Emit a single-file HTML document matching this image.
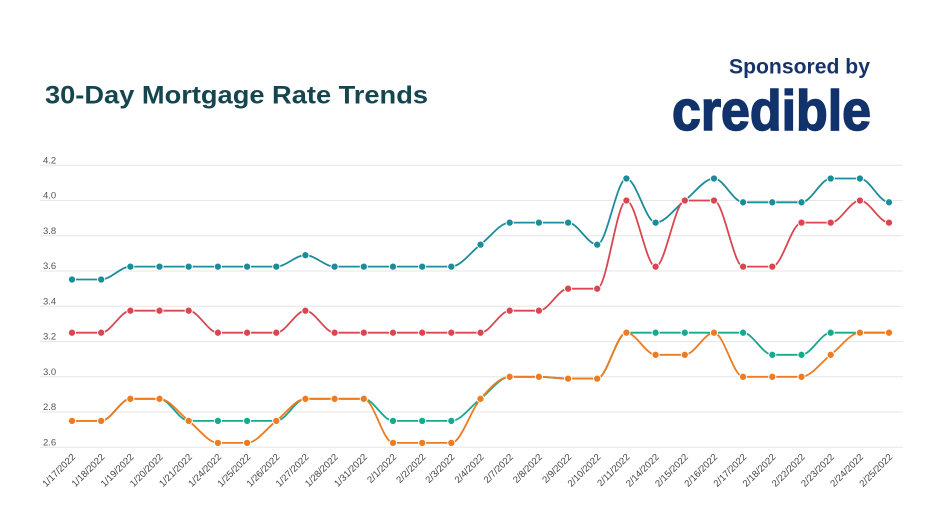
<!DOCTYPE html>
<html><head><meta charset="utf-8"><style>
html,body{margin:0;padding:0;background:#fff;}
svg{display:block;}
</style></head><body>
<svg width="932" height="524" viewBox="0 0 932 524" xmlns="http://www.w3.org/2000/svg">
<defs>
<marker id="mt" markerWidth="10" markerHeight="10" refX="5" refY="5" markerUnits="userSpaceOnUse"><circle cx="5" cy="5" r="3.6" fill="#1b8c99" stroke="#fff" stroke-width="0.9"/></marker>
<marker id="mr" markerWidth="10" markerHeight="10" refX="5" refY="5" markerUnits="userSpaceOnUse"><circle cx="5" cy="5" r="3.6" fill="#d9464f" stroke="#fff" stroke-width="0.9"/></marker>
<marker id="mg" markerWidth="10" markerHeight="10" refX="5" refY="5" markerUnits="userSpaceOnUse"><circle cx="5" cy="5" r="3.6" fill="#17a88e" stroke="#fff" stroke-width="0.9"/></marker>
<marker id="mo" markerWidth="10" markerHeight="10" refX="5" refY="5" markerUnits="userSpaceOnUse"><circle cx="5" cy="5" r="3.6" fill="#ec7b22" stroke="#fff" stroke-width="0.9"/></marker>
</defs>
<rect width="932" height="524" fill="#fff"/>
<text x="45" y="103.3" font-family="Liberation Sans, sans-serif" font-weight="bold" font-size="25" fill="#15464f" textLength="383" lengthAdjust="spacingAndGlyphs">30-Day Mortgage Rate Trends</text>
<text x="729" y="73.3" font-family="Liberation Sans, sans-serif" font-weight="bold" font-size="21" fill="#17336b" textLength="141" lengthAdjust="spacingAndGlyphs">Sponsored by</text>
<text x="672" y="130" font-family="Liberation Sans, sans-serif" font-weight="bold" font-size="57" fill="#11326b" stroke="#11326b" stroke-width="1.6" textLength="199" lengthAdjust="spacingAndGlyphs">credible</text>

<g stroke="#e6e6e6" stroke-width="1">
<line x1="40" x2="903" y1="165.3" y2="165.3"/>
<line x1="40" x2="903" y1="200.5" y2="200.5"/>
<line x1="40" x2="903" y1="235.8" y2="235.8"/>
<line x1="40" x2="903" y1="271" y2="271"/>
<line x1="40" x2="903" y1="306.3" y2="306.3"/>
<line x1="40" x2="903" y1="341.5" y2="341.5"/>
<line x1="40" x2="903" y1="376.8" y2="376.8"/>
<line x1="40" x2="903" y1="412" y2="412"/>
<line x1="40" x2="903" y1="447.3" y2="447.3"/>
</g>
<g font-family="Liberation Sans, sans-serif" font-size="9.5" fill="#555">
<text x="43" y="163.3">4.2</text>
<text x="43" y="198.5">4.0</text>
<text x="43" y="233.8">3.8</text>
<text x="43" y="269">3.6</text>
<text x="43" y="304.3">3.4</text>
<text x="43" y="339.5">3.2</text>
<text x="43" y="374.8">3.0</text>
<text x="43" y="410">2.8</text>
<text x="43" y="445.3">2.6</text>
</g>

<g fill="none" stroke-width="1.8" stroke-linejoin="round">
<path stroke="#1b8c99" marker-start="url(#mt)" marker-mid="url(#mt)" marker-end="url(#mt)" d="M72 279.5 C81.7 279.5 91.5 279.5 101.2 279.5 S120.7 266.6 130.4 266.6 S149.8 266.6 159.5 266.6 S179 266.6 188.7 266.6 S208.2 266.6 217.9 266.6 S237.4 266.6 247.1 266.6 S266.6 266.6 276.3 266.6 S295.7 255.2 305.4 255.2 S324.9 266.6 334.6 266.6 S354.1 266.6 363.8 266.6 S383.3 266.6 393 266.6 S412.5 266.6 422.2 266.6 S441.6 266.6 451.3 266.6 C461 266.6 470.8 251.9 480.5 244.6 C490.2 237.3 500 222.6 509.7 222.6 S529.2 222.6 538.9 222.6 S558.4 222.6 568.1 222.6 S587.5 244.6 597.2 244.6 S616.7 178.5 626.4 178.5 S645.9 222.6 655.6 222.6 C665.3 222.6 675.1 207.85 684.8 200.5 C694.5 193.15 704.3 178.5 714 178.5 S733.4 202.3 743.1 202.3 S762.6 202.3 772.3 202.3 S791.8 202.3 801.5 202.3 S821 178.5 830.7 178.5 S850.2 178.5 859.9 178.5 S879.3 202.3 889 202.3"/>
<path stroke="#d9464f" marker-start="url(#mr)" marker-mid="url(#mr)" marker-end="url(#mr)" d="M72 332.7 C81.7 332.7 91.5 332.7 101.2 332.7 S120.7 310.7 130.4 310.7 S149.8 310.7 159.5 310.7 S179 310.7 188.7 310.7 S208.2 332.7 217.9 332.7 S237.4 332.7 247.1 332.7 S266.6 332.7 276.3 332.7 S295.7 310.7 305.4 310.7 S324.9 332.7 334.6 332.7 S354.1 332.7 363.8 332.7 S383.3 332.7 393 332.7 S412.5 332.7 422.2 332.7 S441.6 332.7 451.3 332.7 S470.8 332.7 480.5 332.7 S500 310.7 509.7 310.7 S529.2 310.7 538.9 310.7 S558.4 288.7 568.1 288.7 S587.5 288.7 597.2 288.7 S616.7 200.5 626.4 200.5 S645.9 266.6 655.6 266.6 S675.1 200.5 684.8 200.5 S704.3 200.5 714 200.5 S733.4 266.6 743.1 266.6 S762.6 266.6 772.3 266.6 S791.8 222.6 801.5 222.6 S821 222.6 830.7 222.6 S850.2 200.5 859.9 200.5 S879.3 222.6 889 222.6"/>
<path stroke="#17a88e" marker-start="url(#mg)" marker-mid="url(#mg)" marker-end="url(#mg)" d="M72 420.9 C81.7 420.9 91.5 420.9 101.2 420.9 S120.7 398.8 130.4 398.8 S149.8 398.8 159.5 398.8 S179 420.9 188.7 420.9 S208.2 420.9 217.9 420.9 S237.4 420.9 247.1 420.9 S266.6 420.9 276.3 420.9 S295.7 398.8 305.4 398.8 S324.9 398.8 334.6 398.8 S354.1 398.8 363.8 398.8 S383.3 420.9 393 420.9 S412.5 420.9 422.2 420.9 S441.6 420.9 451.3 420.9 C461 420.9 470.8 406.15 480.5 398.8 C490.2 391.45 500 376.8 509.7 376.8 S529.2 376.8 538.9 376.8 S558.4 378.6 568.1 378.6 S587.5 378.6 597.2 378.6 S616.7 332.7 626.4 332.7 S645.9 332.7 655.6 332.7 S675.1 332.7 684.8 332.7 S704.3 332.7 714 332.7 S733.4 332.7 743.1 332.7 S762.6 354.8 772.3 354.8 S791.8 354.8 801.5 354.8 S821 332.7 830.7 332.7 S850.2 332.7 859.9 332.7 S879.3 332.7 889 332.7"/>
<path stroke="#ec7b22" marker-start="url(#mo)" marker-mid="url(#mo)" marker-end="url(#mo)" d="M72 420.9 C81.7 420.9 91.5 420.9 101.2 420.9 S120.7 398.8 130.4 398.8 S149.8 398.8 159.5 398.8 C169.2 398.8 179 413.55 188.7 420.9 C198.4 428.25 208.2 442.9 217.9 442.9 S237.4 442.9 247.1 442.9 C256.8 442.9 266.6 428.25 276.3 420.9 C286 413.55 295.7 398.8 305.4 398.8 S324.9 398.8 334.6 398.8 S354.1 398.8 363.8 398.8 S383.3 442.9 393 442.9 S412.5 442.9 422.2 442.9 S441.6 442.9 451.3 442.9 C461 442.9 470.8 409.8 480.5 398.8 C490.2 387.8 500 376.8 509.7 376.8 S529.2 376.8 538.9 376.8 S558.4 378.6 568.1 378.6 S587.5 378.6 597.2 378.6 S616.7 332.7 626.4 332.7 S645.9 354.8 655.6 354.8 S675.1 354.8 684.8 354.8 S704.3 332.7 714 332.7 S733.4 376.8 743.1 376.8 S762.6 376.8 772.3 376.8 S791.8 376.8 801.5 376.8 C811.2 376.8 821 362.15 830.7 354.8 C840.4 347.45 850.2 332.7 859.9 332.7 S879.3 332.7 889 332.7"/>
</g>

<g font-family="Liberation Sans, sans-serif" font-size="9.5" fill="#444" text-anchor="end">
<text transform="translate(76,457.5) rotate(-45)">1/17/2022</text>
<text transform="translate(105.2,457.5) rotate(-45)">1/18/2022</text>
<text transform="translate(134.4,457.5) rotate(-45)">1/19/2022</text>
<text transform="translate(163.5,457.5) rotate(-45)">1/20/2022</text>
<text transform="translate(192.7,457.5) rotate(-45)">1/21/2022</text>
<text transform="translate(221.9,457.5) rotate(-45)">1/24/2022</text>
<text transform="translate(251.1,457.5) rotate(-45)">1/25/2022</text>
<text transform="translate(280.3,457.5) rotate(-45)">1/26/2022</text>
<text transform="translate(309.4,457.5) rotate(-45)">1/27/2022</text>
<text transform="translate(338.6,457.5) rotate(-45)">1/28/2022</text>
<text transform="translate(367.8,457.5) rotate(-45)">1/31/2022</text>
<text transform="translate(397,457.5) rotate(-45)">2/1/2022</text>
<text transform="translate(426.2,457.5) rotate(-45)">2/2/2022</text>
<text transform="translate(455.3,457.5) rotate(-45)">2/3/2022</text>
<text transform="translate(484.5,457.5) rotate(-45)">2/4/2022</text>
<text transform="translate(513.7,457.5) rotate(-45)">2/7/2022</text>
<text transform="translate(542.9,457.5) rotate(-45)">2/8/2022</text>
<text transform="translate(572.1,457.5) rotate(-45)">2/9/2022</text>
<text transform="translate(601.2,457.5) rotate(-45)">2/10/2022</text>
<text transform="translate(630.4,457.5) rotate(-45)">2/11/2022</text>
<text transform="translate(659.6,457.5) rotate(-45)">2/14/2022</text>
<text transform="translate(688.8,457.5) rotate(-45)">2/15/2022</text>
<text transform="translate(718,457.5) rotate(-45)">2/16/2022</text>
<text transform="translate(747.1,457.5) rotate(-45)">2/17/2022</text>
<text transform="translate(776.3,457.5) rotate(-45)">2/18/2022</text>
<text transform="translate(805.5,457.5) rotate(-45)">2/22/2022</text>
<text transform="translate(834.7,457.5) rotate(-45)">2/23/2022</text>
<text transform="translate(863.9,457.5) rotate(-45)">2/24/2022</text>
<text transform="translate(893,457.5) rotate(-45)">2/25/2022</text>
</g>
</svg>
</body></html>
